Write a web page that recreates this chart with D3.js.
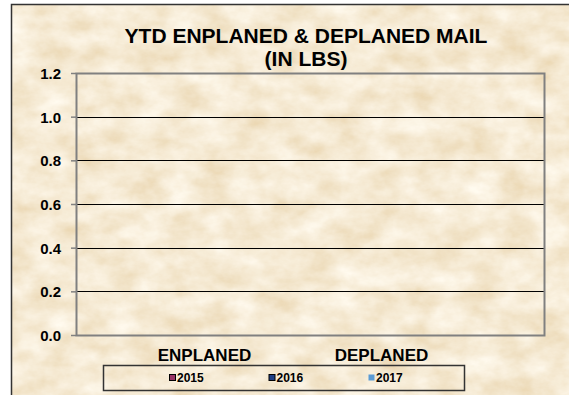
<!DOCTYPE html>
<html>
<head>
<meta charset="utf-8">
<script src="https://cdn.jsdelivr.net/npm/d3@7"></script>
<style>
  body { margin: 0; background: #fff; }
  text { font-family: Arial, 'Liberation Sans', sans-serif; font-weight: bold; fill: #000; }
</style>
</head>
<body>
<div id="chart"></div>
<script>
// chart data (no mail reported, so every value is 0)
const categories = ['ENPLANED', 'DEPLANED']
const years = ['2015', '2016', '2017']
const values2015 = [0, 0]
const values2016 = [0, 0]
const values2017 = [0, 0]
const yTicks = [0, 0.2, 0.4, 0.6, 0.8, 1.0, 1.2]
const colors = ['#993366', '#1f3f86', '#5b9bd5']
const markerStroke = ['#000', '#000', 'none']

const W = 569
const H = 395
const margin = { top: 73, right: 25, bottom: 60, left: 76 }
const width = W - margin.left - margin.right
const height = H - margin.top - margin.bottom

const svg = d3.select('#chart')
  .append('svg')
  .attr('width', W)
  .attr('height', H)

// parchment texture
const defs = svg.append('defs')
const filt = defs.append('filter').attr('id', 'paper')
  .attr('x', 0).attr('y', 0).attr('width', '100%').attr('height', '100%')
filt.append('feTurbulence')
  .attr('type', 'fractalNoise')
  .attr('baseFrequency', '0.03 0.045')
  .attr('numOctaves', 5)
  .attr('seed', 11)
  .attr('result', 'noise')
// map noise to warm beige tones: darker spots turn tan/orange
filt.append('feColorMatrix')
  .attr('in', 'noise')
  .attr('type', 'matrix')
  .attr('values', '0 0 0 -0.22 1.03  0 0 0 -0.35 1.0  0 0 0 -0.52 0.92  0 0 0 0 1')
  .attr('result', 'tint')
filt.append('feComposite').attr('in', 'tint').attr('in2', 'SourceGraphic').attr('operator', 'in')

svg.append('rect')
  .attr('x', 11).attr('y', 4)
  .attr('width', W - 11 + 2).attr('height', H - 4 + 2)
  .attr('fill', '#eddcb5')
svg.append('rect')
  .attr('x', 11).attr('y', 4)
  .attr('width', W - 11 + 2).attr('height', H - 4 + 2)
  .attr('fill', '#eddcb5')
  .attr('filter', 'url(#paper)')
svg.append('rect')
  .attr('x', 11.5).attr('y', 4.5)
  .attr('width', W).attr('height', H)
  .attr('fill', 'none')
  .attr('stroke', '#333')
  .attr('stroke-width', 1.5)

// title
const title = svg.append('text')
  .attr('text-anchor', 'middle')
  .style('font-size', '21px')
title.append('tspan').attr('x', 306).attr('y', 43).text('YTD ENPLANED & DEPLANED MAIL')
title.append('tspan').attr('x', 306).attr('y', 66).text('(IN LBS)')

const g = svg.append('g')
  .attr('transform', 'translate(' + margin.left + ',' + margin.top + ')')

const y = d3.scaleLinear()
  .domain([0, 1.2])
  .range([height, 0])

// category scale (labels sit off-centre as in the original)
const x = d3.scaleBand()
  .domain(categories)
  .range([40, 394])

const xs = d3.scaleBand()
  .domain(years)
  .range([0, x.bandwidth()])
  .padding(0.1)

// gridlines
g.selectAll('.grid')
  .data(yTicks.slice(1, -1))
  .enter()
  .append('line')
  .attr('x1', 0)
  .attr('x2', width)
  .attr('y1', function (d) { return Math.round(y(d)) + 0.5 })
  .attr('y2', function (d) { return Math.round(y(d)) + 0.5 })
  .attr('stroke', '#000')
  .attr('stroke-width', 1)

// bars (all zero)
const series = [values2015, values2016, values2017]
years.forEach(function (yr, i) {
  g.selectAll('.bar' + yr)
    .data(series[i])
    .enter()
    .append('rect')
    .attr('x', function (d, j) { return x(categories[j]) + xs(yr) })
    .attr('y', function (d) { return y(d) })
    .attr('width', xs.bandwidth())
    .attr('height', function (d) { return height - y(d) })
    .attr('fill', colors[i])
})

// plot border
g.append('rect')
  .attr('x', 0.5).attr('y', 0.5)
  .attr('width', width).attr('height', height)
  .attr('fill', 'none')
  .attr('stroke', '#808080')
  .attr('stroke-width', 2)

// y axis
const yAxis = g.append('g')
  .call(d3.axisLeft(y).tickValues(yTicks).tickFormat(d3.format('.1f')).tickSize(5).tickPadding(10))
yAxis.select('.domain').remove()
yAxis.selectAll('line').attr('stroke', '#808080').attr('stroke-width', 1.5)
yAxis.selectAll('text').style('font-size', '15px').attr('dy', '0.36em')

// category labels
g.selectAll('.cat')
  .data(categories)
  .enter()
  .append('text')
  .attr('x', function (d) { return x(d) + x.bandwidth() / 2 })
  .attr('y', height + 26)
  .attr('text-anchor', 'middle')
  .style('font-size', '17px')
  .text(function (d) { return d })

// legend
const legend = svg.append('g')
legend.append('rect')
  .attr('x', 103.5).attr('y', 365.5)
  .attr('width', 361).attr('height', 25)
  .attr('fill', 'none')
  .attr('stroke', '#333')
  .attr('stroke-width', 1.5)
const lx = d3.scalePoint()
  .domain(years)
  .range([169, 368])
const item = legend.selectAll('.item')
  .data(years)
  .enter()
  .append('g')
  .attr('transform', function (d) { return 'translate(' + lx(d) + ',378)' })
item.append('rect')
  .attr('x', 0.5).attr('y', -3.5)
  .attr('width', 6).attr('height', 6)
  .attr('fill', function (d, i) { return colors[i] })
  .attr('stroke', function (d, i) { return markerStroke[i] })
  .attr('stroke-width', 1)
item.append('text')
  .attr('x', 8)
  .attr('dy', '0.36em')
  .style('font-size', '12px')
  .text(function (d) { return d })
</script>
</body>
</html>
